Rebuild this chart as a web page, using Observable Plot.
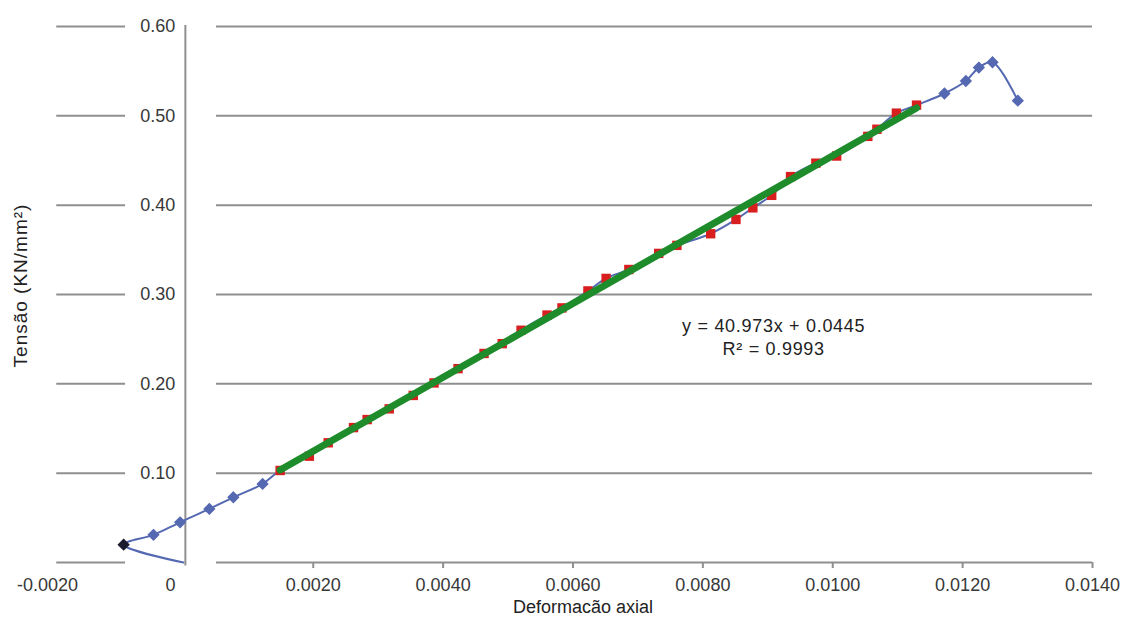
<!DOCTYPE html>
<html><head><meta charset="utf-8">
<script src="https://cdn.jsdelivr.net/npm/d3@7"></script>
<script src="https://cdn.jsdelivr.net/npm/@observablehq/plot@0.6"></script>
<style>body{margin:0;background:#fff;}</style>
</head><body><div id="chart"></div>
<script>
// Blue series: points before the linear zone (start, black point, then rising)
const preX = [0.0000, -0.00092, -0.00046, -0.00005, 0.00040, 0.00077, 0.00122];
const preY = [0.000, 0.020, 0.031, 0.045, 0.060, 0.073, 0.088];
// Linear zone (red squares, used for the trend line)
const linX = [0.00149, 0.00194, 0.00223, 0.00262, 0.00283, 0.00317, 0.00354, 0.00386, 0.00423, 0.00463,
              0.00491, 0.00520, 0.00560, 0.00583, 0.00623, 0.00651, 0.00686, 0.00732, 0.00760, 0.00812,
              0.00851, 0.00877, 0.00906, 0.00935, 0.00974, 0.01006, 0.01054, 0.01068, 0.01098, 0.01129];
const linY = [0.103, 0.119, 0.134, 0.151, 0.160, 0.172, 0.187, 0.201, 0.217, 0.234,
              0.245, 0.260, 0.277, 0.285, 0.304, 0.318, 0.328, 0.346, 0.355, 0.368,
              0.384, 0.397, 0.411, 0.432, 0.447, 0.455, 0.477, 0.485, 0.503, 0.512];
// Blue series after the linear zone (peak and drop)
const postX = [0.01172, 0.01205, 0.01225, 0.01246, 0.01285];
const postY = [0.525, 0.539, 0.554, 0.560, 0.517];

const yTicks = [0.10, 0.20, 0.30, 0.40, 0.50, 0.60];
const xTicks = [-0.002, 0, 0.002, 0.004, 0.006, 0.008, 0.010, 0.012, 0.014];
const equationLines = ["y = 40.973x + 0.0445", "R² = 0.9993"];
const xTitle = "Deformacão axial";
const yTitle = "Tensão (KN/mm²)";

const pre = preX.map((x, i) => ({x, y: preY[i]}));
const lin = linX.map((x, i) => ({x, y: linY[i]}));
const post = postX.map((x, i) => ({x, y: postY[i]}));
const all = [...pre, ...lin, ...post];

const fmtX = d => d === 0 ? "0" : d.toFixed(4);
const grid = "#8f8f8f";
const labelColor = "#383838";
const blue = "#5569b2";

const chart = Plot.plot({
  width: 1124,
  height: 621,
  marginLeft: 53,
  marginRight: 32,
  marginTop: 26,
  marginBottom: 59,
  x: {domain: [-0.002, 0.014], axis: null},
  y: {domain: [0, 0.6], axis: null},
  style: {fontFamily: "'Liberation Sans', Arial, sans-serif", background: "white"},
  marks: [
    // gridlines (with gap around the y labels)
    Plot.ruleY([0, ...yTicks], {x1: -0.00195, x2: -0.00089, stroke: grid, strokeWidth: 2}),
    Plot.ruleY([0, ...yTicks], {x1: 0.00051, x2: 0.014, stroke: grid, strokeWidth: 2}),
    // vertical axis line at x = 0
    Plot.ruleX([0], {y1: -0.004, y2: 0.601, dx: 2, stroke: grid, strokeWidth: 2}),
    // x tick marks
    Plot.ruleX(xTicks.filter(d => d > 0), {x: d => d, y1: 0, y2: 0, insetBottom: -6, stroke: grid, strokeWidth: 2}),
    // x tick labels
    Plot.text(xTicks.filter(d => d > 0), {x: d => d, y: 0, dy: 23, text: fmtX, fontSize: 18, fill: labelColor}),
    Plot.text(xTicks.filter(d => d < 0), {x: d => d, y: 0, dy: 23, dx: -6, text: fmtX, fontSize: 18, fill: labelColor}),
    Plot.text(xTicks.filter(d => d === 0), {x: d => d, y: 0, dy: 23, dx: -13, text: fmtX, fontSize: 18, fill: labelColor}),
    // y tick labels
    Plot.text(yTicks, {x: 0, y: d => d, dx: -8, textAnchor: "end", text: d => d.toFixed(2), fontSize: 18, fill: labelColor}),
    // blue smoothed curve through all the data
    Plot.line(all, {x: "x", y: "y", curve: "catmull-rom", stroke: blue, strokeWidth: 2}),
    // blue diamonds
    Plot.dot(pre.slice(2), {x: "x", y: "y", symbol: "diamond2", r: 4.6, fill: blue, stroke: blue}),
    Plot.dot(post, {x: "x", y: "y", symbol: "diamond2", r: 4.6, fill: blue, stroke: blue}),
    Plot.dot(pre.slice(1, 2), {x: "x", y: "y", symbol: "diamond2", r: 4.6, fill: "#1b1b2e", stroke: "#1b1b2e"}),
    // red squares
    Plot.dot(lin, {x: "x", y: "y", symbol: "square", r: 5.3, fill: "#d81e1e"}),
    // green trend line
    Plot.linearRegressionY(lin, {x: "x", y: "y", ci: 0, stroke: "#1f8c2c", strokeWidth: 7}),
    // equation
    Plot.text([equationLines.join("\n")], {x: 0.00909, y: 0.2534, text: d => d, fontSize: 18, lineHeight: 1.28, fill: "#222"}),
    // axis titles
    Plot.text([xTitle], {frameAnchor: "bottom", lineAnchor: "middle", textAnchor: "middle", dy: 45, dx: 10, text: d => d, fontSize: 18, fill: "#222"}),
    Plot.text([yTitle], {frameAnchor: "left", textAnchor: "middle", lineAnchor: "middle", dx: -33, dy: -9, rotate: -90, text: d => d, fontSize: 19, fill: "#222"})
  ]
});
// slight letter spacing on texts that are wider in the reference
d3.select(chart).selectAll("text")
  .filter(function() { return this.textContent === yTitle; })
  .style("letter-spacing", "1px");
d3.select(chart).selectAll("text")
  .filter(function() { return this.textContent.startsWith("y ="); })
  .style("letter-spacing", "0.7px");
document.getElementById("chart").append(chart);
</script>
</body></html>
